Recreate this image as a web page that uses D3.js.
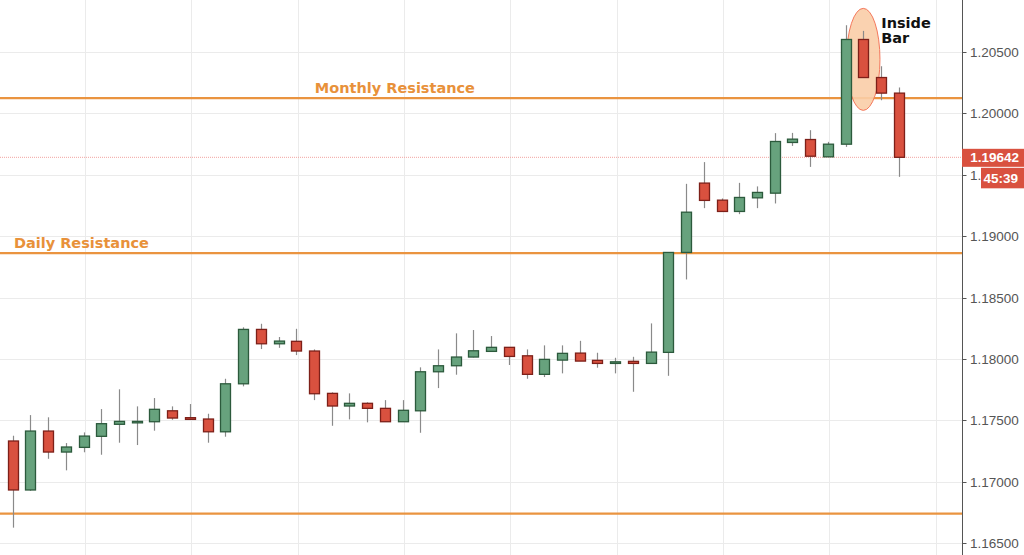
<!DOCTYPE html>
<html><head><meta charset="utf-8">
<script src="https://cdn.jsdelivr.net/npm/d3@7"></script>
<style>body{margin:0;background:#fff}svg{display:block}</style>
</head><body><svg id="c" width="1024" height="555"></svg>
<script>
const opens  = [1.17331,1.16932,1.17412,1.17241,1.17279,1.17369,1.17467,1.17485,1.17488,1.17577,1.17521,1.17510,1.17406,1.17797,1.18240,1.18123,1.18143,1.18064,1.17719,1.17616,1.17638,1.17597,1.17488,1.17577,1.17895,1.17944,1.18015,1.18061,1.18094,1.18025,1.17874,1.17990,1.18047,1.17988,1.17963,1.17980,1.17963,1.18053,1.18867,1.19432,1.19293,1.19201,1.19312,1.19350,1.19763,1.19787,1.19646,1.19749,1.20602,1.20292,1.20165];
const highs  = [1.17374,1.17542,1.17524,1.17314,1.17401,1.17591,1.17752,1.17613,1.17681,1.17613,1.17632,1.17553,1.17838,1.18257,1.18286,1.18178,1.18245,1.18077,1.17727,1.17719,1.17646,1.17664,1.17664,1.17931,1.18077,1.18208,1.18235,1.18186,1.18094,1.18077,1.18110,1.18110,1.18147,1.18050,1.18009,1.18017,1.18289,1.18867,1.19426,1.19603,1.19307,1.19434,1.19405,1.19839,1.19841,1.19863,1.19768,1.20718,1.20672,1.20384,1.20211];
const lows   = [1.16625,1.16925,1.17186,1.17092,1.17239,1.17219,1.17317,1.17298,1.17415,1.17504,1.17504,1.17317,1.17366,1.17776,1.18080,1.18090,1.18031,1.17664,1.17455,1.17507,1.17483,1.17488,1.17488,1.17398,1.17762,1.17871,1.18012,1.18061,1.17950,1.17838,1.17852,1.17882,1.17982,1.17928,1.17882,1.17732,1.17963,1.17862,1.18647,1.19228,1.19201,1.19179,1.19228,1.19266,1.19735,1.19564,1.19646,1.19727,1.20292,1.20107,1.19483];
const closes = [1.16932,1.17412,1.17241,1.17282,1.17371,1.17472,1.17491,1.17491,1.17589,1.17518,1.17507,1.17406,1.17797,1.18240,1.18123,1.18145,1.18064,1.17716,1.17616,1.17638,1.17597,1.17488,1.17581,1.17895,1.17944,1.18015,1.18066,1.18094,1.18020,1.17874,1.17996,1.18045,1.17982,1.17963,1.17976,1.17963,1.18055,1.18867,1.19195,1.19291,1.19201,1.19315,1.19356,1.19771,1.19790,1.19651,1.19749,1.20602,1.20292,1.20165,1.19642];
const tickValues = [1.165,1.170,1.175,1.180,1.185,1.190,1.195,1.200,1.205];
const tickLabels = ["1.16500","1.17000","1.17500","1.18000","1.18500","1.19000","1.19500","1.20000","1.20500"];
const levelValues = [1.20124,1.18862,1.16739];
const levelLabels = ["Monthly Resistance","Daily Resistance",""];
const levelLabelIndex = [17.05,0.07,0];
const gridIndices = [4,10,16,22,28,34,40,46,52];
const lastPrice = 1.19642;
const lastPriceText = "1.19642";
const timerText = "45:39";
const insideBarIndex = 48;
const insideBarText = ["Inside","Bar"];

const W = 1024, H = 555, axisX = 962;
const svg = d3.select("#c");
const x = d3.scaleLinear().domain([0,50]).range([12.7,898.7]);
const y = d3.scaleLinear().domain([1.165,1.205]).range([543,52]);

const plot = svg.append("g");
// grid
plot.append("g").selectAll("line").data(tickValues).join("line")
  .attr("x1",0).attr("x2",axisX).attr("y1",d=>Math.round(y(d))+0.5).attr("y2",d=>Math.round(y(d))+0.5)
  .attr("stroke","#ebebeb").attr("stroke-width",1);
plot.append("g").selectAll("line").data(gridIndices).join("line")
  .attr("x1",d=>Math.round(x(d)+1.5)+0.5).attr("x2",d=>Math.round(x(d)+1.5)+0.5).attr("y1",0).attr("y2",H)
  .attr("stroke","#ebebeb").attr("stroke-width",1);

// last price dotted line
plot.append("line").attr("x1",0).attr("x2",axisX).attr("y1",y(lastPrice)).attr("y2",y(lastPrice))
  .attr("stroke","#f2a3a0").attr("stroke-width",1).attr("stroke-dasharray","1,1");

// resistance levels
plot.append("g").selectAll("line").data(levelValues).join("line")
  .attr("x1",0).attr("x2",axisX).attr("y1",d=>y(d)).attr("y2",d=>y(d))
  .attr("stroke","#ea9440").attr("stroke-width",2.2);
plot.append("g").selectAll("text").data(levelLabels).join("text")
  .attr("x",(d,i)=>x(levelLabelIndex[i])).attr("y",(d,i)=>y(levelValues[i])-5)
  .attr("font-family","DejaVu Sans, Verdana, sans-serif").attr("font-weight","bold").attr("font-size",14.5)
  .attr("fill","#e8913a").text(d=>d);

// inside bar ellipse
plot.append("ellipse").attr("cx",x(insideBarIndex)).attr("cy",y(1.2044)).attr("rx",16.7).attr("ry",51)
  .attr("fill","#f9cda7").attr("fill-opacity",0.9).attr("stroke","#f4785c").attr("stroke-width",1);

// candles
const data = opens.map((o,i)=>({i,o,h:highs[i],l:lows[i],c:closes[i]}));
const cg = plot.append("g").selectAll("g").data(data).join("g");
cg.append("line").attr("x1",d=>Math.round(x(d.i))+0.5).attr("x2",d=>Math.round(x(d.i))+0.5)
  .attr("y1",d=>y(d.h)).attr("y2",d=>y(d.l)).attr("stroke","#8a8a8a").attr("stroke-width",1.2);
const bw = 10;
cg.append("rect").attr("x",d=>Math.round(x(d.i))+0.5-bw/2).attr("width",bw)
  .attr("y",d=>Math.min(y(d.o),y(d.c))).attr("height",d=>Math.max(1.5,Math.abs(y(d.o)-y(d.c))))
  .attr("fill",d=>d.c>=d.o?"#67a27d":"#d9513f")
  .attr("stroke",d=>d.c>=d.o?"#2c5a3c":"#7d2019").attr("stroke-width",1.3);

// inside bar text
plot.append("text").attr("y",y(1.20698))
  .attr("font-family","DejaVu Sans, sans-serif").attr("font-weight","bold").attr("font-size",14.5).attr("fill","#111")
  .selectAll("tspan").data(insideBarText).join("tspan")
  .attr("x",x(insideBarIndex)+18).attr("dy",(d,i)=>i?15.5:0).text(d=>d);

// right axis
const ax = svg.append("g").attr("transform",`translate(${axisX+0.5},0)`);
ax.append("line").attr("x1",0).attr("x2",0).attr("y1",0).attr("y2",H).attr("stroke","#555").attr("stroke-width",1);
const tk = ax.selectAll("g.t").data(tickValues).join("g").attr("class","t")
  .attr("transform",d=>`translate(0,${Math.round(y(d))+0.5})`);
tk.append("line").attr("x1",0).attr("x2",4).attr("stroke","#555");
tk.append("text").attr("x",7.5).attr("dy","0.35em").attr("font-family","Liberation Sans, Arial, sans-serif")
  .attr("font-size",13.5).attr("fill","#555").text((d,i)=>tickLabels[i]);

// price label boxes
const py = y(lastPrice);
svg.append("rect").attr("x",axisX).attr("y",py-8.5).attr("width",W-axisX).attr("height",18).attr("fill","#d9513f");
svg.append("text").attr("x",1019).attr("y",py+5).attr("text-anchor","end")
  .attr("font-family","Liberation Sans, Arial, sans-serif").attr("font-weight","bold").attr("font-size",13.5)
  .attr("fill","#fff").text(lastPriceText);
svg.append("rect").attr("x",981).attr("y",py+10.5).attr("width",W-981).attr("height",20.5).attr("fill","#d9513f");
svg.append("text").attr("x",1018).attr("y",py+25.5).attr("text-anchor","end")
  .attr("font-family","Liberation Sans, Arial, sans-serif").attr("font-weight","bold").attr("font-size",13.5)
  .attr("fill","#fff").text(timerText);
</script></body></html>
